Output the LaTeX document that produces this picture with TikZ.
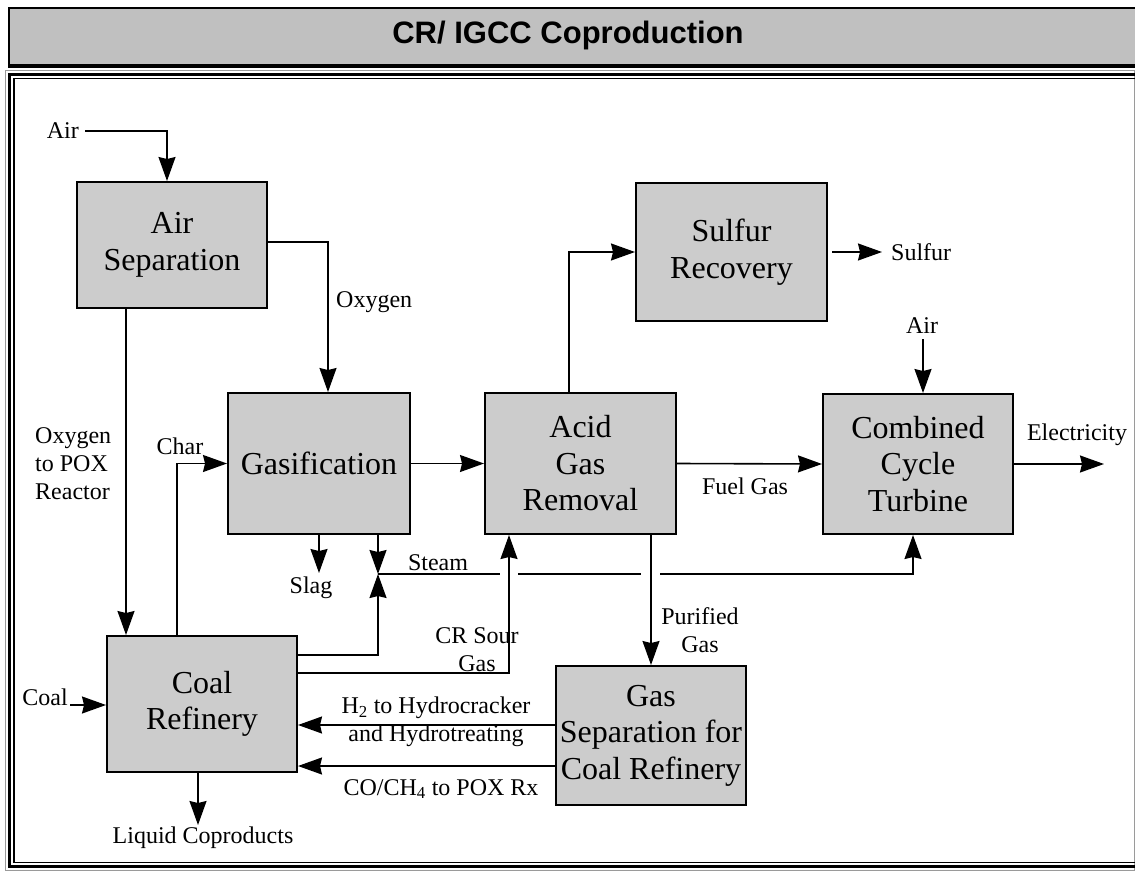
\documentclass[tikz,border=0pt]{standalone}
\usepackage{fontspec}
\setmainfont{Liberation Serif}
\newfontfamily\titlefont{Liberation Sans}
\usetikzlibrary{arrows.meta,calc}
\definecolor{boxgray}{HTML}{CCCCCC}
\definecolor{bargray}{HTML}{C0C0C0}
\definecolor{rulegray}{HTML}{9A9A9A}
\begin{document}
\begin{tikzpicture}[x=1pt,y=-1pt,
  unit/.style={draw=black, line width=2pt, fill=boxgray, inner sep=0pt, align=center,
    font=\fontsize{32}{36.5}\selectfont},
  lbl/.style={inner sep=0pt, align=center, font=\fontsize{24}{28}\selectfont},
  flow/.style={line width=1.6pt, -{Stealth[length=24pt,width=17pt,inset=2pt]}},
  pipe/.style={line width=1.6pt}]
\useasboundingbox (0,0) rectangle (1135,872);

% title bar
\fill[bargray] (9,8) rectangle (1150,66);
\draw[line width=2pt] (1150,8) -- (9,8) -- (9,66);
\draw[line width=4pt] (8,66) -- (1150,66);
\node[font=\titlefont\bfseries\fontsize{31}{34}\selectfont] (title) at (568,35) {CR/ IGCC Coproduction};

% framed drawing area
\draw[rulegray, line width=1pt] (5.5,70.5) rectangle (1134,870);
\draw[line width=3pt] (9.5,74.5) rectangle (1146,866.5);
\draw[line width=1.5pt] (14,78.5) rectangle (1142,862.5);

% process units
\node[unit, minimum width=190pt, minimum height=126pt] (as)  at (172,245)   {Air\\Separation};
\node[unit, minimum width=182pt, minimum height=141pt] (gas) at (319,463.5) {Gasification};
\node[unit, minimum width=191pt, minimum height=141pt] (agr) at (580.5,463.5) {Acid\\Gas\\Removal};
\node[unit, minimum width=191pt, minimum height=138pt] (sr)  at (731.5,252) {Sulfur\\Recovery};
\node[unit, minimum width=190pt, minimum height=140pt] (cct) at (918,464)   {Combined\\Cycle\\Turbine};
\node[unit, minimum width=190pt, minimum height=136pt] (cr)  at (202,704)   {Coal\\Refinery};
\node[unit, minimum width=190pt, minimum height=139pt] (gs)  at (651,735.5) {Gas\\Separation for\\Coal Refinery};

% stream labels
\node[lbl, anchor=east] (airin) at (79,131) {Air};
\node[lbl, anchor=west] (oxlbl) at (336,302) {Oxygen};
\node[lbl, anchor=west, align=left] (poxlbl) at (35,464) {Oxygen\\to POX\\Reactor};
\node[lbl] (charlbl) at (180,446) {Char};
\node[lbl, anchor=west] (sulf) at (891,252) {Sulfur};
\node[lbl] (air2) at (922,326) {Air};
\node[lbl] (fuel) at (745,486) {Fuel Gas};
\node[lbl] (eleclbl) at (1077,435) {Electricity};
\node[lbl] (slag) at (311,588) {Slag};
\node[lbl] (steam) at (438,563) {Steam};
\node[lbl] (sour) at (477,650) {CR Sour\\Gas};
\node[lbl] (pur) at (700,630) {Purified\\Gas};
\node[lbl] (h2lbl) at (436,722) {H\textsubscript{2} to Hydrocracker\\and Hydrotreating};
\node[lbl] (colbl) at (441,789) {CO/CH\textsubscript{4} to POX Rx};
\node[lbl, anchor=east] (coal) at (68,697) {Coal};
\node[lbl] (liq) at (203,838) {Liquid Coproducts};

\coordinate (elec) at (1104,464);
\coordinate (coalin) at (70,705);
\coordinate (j) at (378,574);

% connectors
\draw[flow] ($(airin.east)+(6,0)$) -| ($(as.north)+(-5,0)$);
\draw[flow] ($(as.east)+(0,-3)$) -| ($(gas.north)+(9,0)$);
\draw[flow] ($(as.south)+(-46,0)$) -- ($(cr.north)+(-76,0)$);
\draw[flow] ($(cr.north)+(-25,0)$) |- (gas.west);
\draw[flow] (gas.east) -- (agr.west);
\draw[flow] ($(agr.north)+(-11.5,0)$) |- (sr.west);
\draw[flow] ($(sr.east)+(4,0)$) -- ($(sulf.west)+(-9,0)$);
\draw[flow] ($(air2.south)+(1,5)$) -- ($(cct.north)+(5,0)$);
\draw[flow] (agr.east) -- (cct.west);
\draw[flow] (cct.east) -- (elec);
\draw[flow] (gas.south) -- ++(0,38);
\draw[flow] ($(gas.south)+(59,0)$) -- (j);
\draw[flow] ($(cr.east)+(0,-49)$) -| (j);
\draw[pipe] (j) -- ($(j)+(122,0)$);
\draw[pipe] ($(j)+(140,0)$) -- ($(j)+(263,0)$);
\draw[flow] ($(j)+(282,0)$) -| ($(cct.south)+(-5,0)$);
\draw[flow] ($(cr.east)+(0,-31)$) -| ($(agr.south)+(-71.5,0)$);
\draw[flow] ($(agr.south)+(70.5,0)$) -- (gs.north);
\draw[flow] ($(gs.west)+(0,-10.5)$) -- ($(cr.east)+(0,21)$);
\draw[flow] ($(gs.west)+(0,30.5)$) -- ($(cr.east)+(0,62)$);
\draw[flow] (coalin) -- (cr.west |- coalin);
\draw[flow] ($(cr.south)+(-4,0)$) -- ++(0,52);
\end{tikzpicture}
\end{document}
